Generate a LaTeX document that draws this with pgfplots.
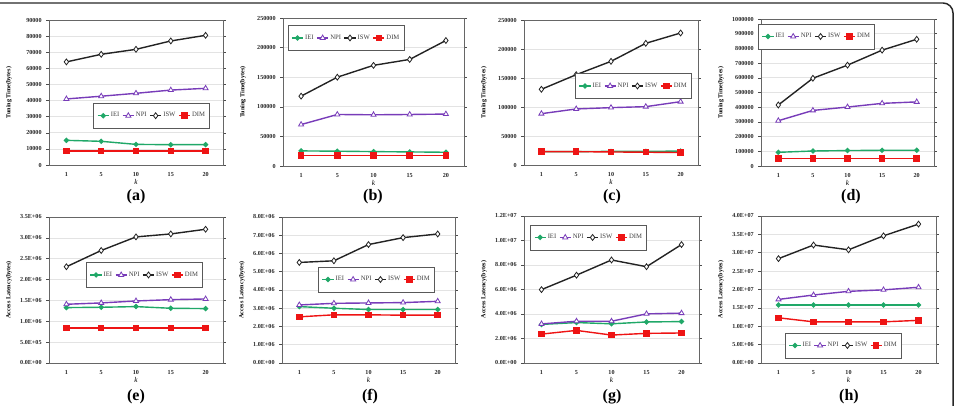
\documentclass[border=0pt]{standalone}
\usepackage{pgfplots}
\pgfplotsset{compat=1.18}
\usepackage{fontspec}
\setmainfont{Liberation Serif}

\definecolor{ieigreen}{RGB}{32,168,104}
\definecolor{npipurple}{RGB}{120,60,185}
\definecolor{iswdark}{RGB}{35,35,35}
\definecolor{dimred}{RGB}{238,20,20}

\pgfplotsset{
  panel/.style={
    scale only axis,
    anchor=south west,
    xmin=-0.5, xmax=4.5,
    xtick={0,1,2,3,4}, xticklabels={1,5,10,15,20},
    ymin=0, scaled y ticks=false,
    axis line style={draw=gray!80!black, line width=0.6pt},
    ymajorgrids, grid style={gray!22, line width=0.5pt},
    tick label style={font=\fontsize{4.6}{5}\selectfont\bfseries, text=black!85},
    /pgf/number format/assume math mode=true,
    xtick style={draw=none},
    ytick style={draw=black!70, line width=0.4pt},
    tick align=outside, major tick length=2pt,
    xlabel={\textit{k}},
    xlabel style={font=\fontsize{5.5}{6}\selectfont, at={(axis description cs:0.5,0)}, anchor=center, yshift=-12.5pt},
    ylabel style={font=\fontsize{4.6}{5}\selectfont\bfseries, at={(axis description cs:0,0.5)}, anchor=center, yshift=30pt},
    legend columns=4,
    legend style={draw=gray!70!black, line width=0.6pt, fill=white,
      font=\fontsize{5}{6}\selectfont, text=black!75, anchor=center,
      inner xsep=2.5pt, inner ysep=5pt,
      nodes={inner xsep=1pt},
      /tikz/every even column/.append style={column sep=1pt}},
    legend image code/.code={\draw[mark repeat=2,mark phase=2,##1] plot coordinates {(0pt,0pt) (4.2pt,0pt) (8.4pt,0pt)};},
  },
  iei/.style={color=ieigreen, line width=1.05pt, mark=*, mark size=1.4pt, mark options={solid}},
  npi/.style={color=npipurple, line width=1.05pt, mark=triangle*, mark size=2.2pt, mark options={solid, fill=white, line width=0.6pt}},
  isw/.style={color=iswdark, line width=1.05pt, mark=diamond*, mark size=2.2pt, mark options={solid, fill=white, line width=0.6pt}},
  dim/.style={color=dimred, line width=1.05pt, mark=square*, mark size=1.9pt, mark options={solid}},
}

\begin{document}
\begin{tikzpicture}
\useasboundingbox (0,0) rectangle (716.25pt,304.5pt);
\draw[line width=1.1pt, black!85] (0,302.25pt) -- (707.25pt,302.25pt)
  arc[start angle=90, end angle=0, radius=7.5pt] -- (714.75pt,0);

% ---------- (a) tuning time ----------
\begin{axis}[panel, at={(36.75pt,180.75pt)}, width=130.5pt, height=108.75pt,
  ymax=90000, ytick={0,10000,20000,30000,40000,50000,60000,70000,80000,90000},
  yticklabels={0,10000,20000,30000,40000,50000,60000,70000,80000,90000},
  ylabel={Tuning Time(bytes)}, legend style={at={(0.59,0.34)}}]
\addplot[iei] coordinates {(0,15300) (1,14700) (2,12800) (3,12600) (4,12600)};
\addplot[npi] coordinates {(0,41000) (1,42700) (2,44500) (3,46500) (4,47600)};
\addplot[isw] coordinates {(0,64000) (1,68700) (2,71800) (3,77000) (4,80500)};
\addplot[dim] coordinates {(0,8700) (1,8700) (2,8700) (3,8700) (4,8700)};
\legend{IEI,NPI,ISW,DIM}
\end{axis}
\node[font=\fontsize{12}{13}\selectfont\bfseries] at (102pt,156.75pt) {(a)};

% ---------- (b) ----------
\begin{axis}[panel, at={(212.25pt,180pt)}, width=135.75pt, height=111pt,
  ymax=250000, ytick={0,50000,100000,150000,200000,250000},
  yticklabels={0,50000,100000,150000,200000,250000},
  ylabel={Tuning Time(bytes)}, legend style={at={(0.348,0.865)}}]
\addplot[iei] coordinates {(0,25500) (1,25000) (2,24300) (3,23800) (4,23200)};
\addplot[npi] coordinates {(0,70000) (1,87000) (2,86500) (3,87000) (4,87700)};
\addplot[isw] coordinates {(0,118000) (1,150000) (2,170000) (3,180000) (4,212000)};
\addplot[dim] coordinates {(0,17500) (1,17500) (2,17500) (3,17500) (4,17500)};
\legend{IEI,NPI,ISW,DIM}
\end{axis}
\node[font=\fontsize{12}{13}\selectfont\bfseries] at (279.75pt,156.75pt) {(b)};

% ---------- (c) ----------
\begin{axis}[panel, at={(393pt,180.75pt)}, width=130.5pt, height=108.75pt,
  ymax=250000, ytick={0,50000,100000,150000,200000,250000},
  yticklabels={0,50000,100000,150000,200000,250000},
  ylabel={Tuning Time(bytes)}, legend style={at={(0.629,0.545)}}]
\addplot[iei] coordinates {(0,23000) (1,23000) (2,23500) (3,23500) (4,24000)};
\addplot[npi] coordinates {(0,88500) (1,96600) (2,98900) (3,100600) (4,109200)};
\addplot[isw] coordinates {(0,130500) (1,155700) (2,178700) (3,209800) (4,227600)};
\addplot[dim] coordinates {(0,23000) (1,23000) (2,22500) (3,22000) (4,21500)};
\legend{IEI,NPI,ISW,DIM}
\end{axis}
\node[font=\fontsize{12}{13}\selectfont\bfseries] at (459pt,156.75pt) {(c)};

% ---------- (d) ----------
\begin{axis}[panel, at={(570.75pt,180pt)}, width=129.75pt, height=110.25pt,
  ymax=1000000, ytick={0,100000,200000,300000,400000,500000,600000,700000,800000,900000,1000000},
  yticklabels={0,100000,200000,300000,400000,500000,600000,700000,800000,900000,1000000},
  ylabel={Tuning Time(bytes)}, legend style={at={(0.321,0.881)}}]
\addplot[iei] coordinates {(0,93000) (1,102000) (2,105000) (3,107000) (4,107000)};
\addplot[npi] coordinates {(0,308000) (1,378000) (2,401000) (3,426000) (4,436000)};
\addplot[isw] coordinates {(0,415000) (1,597000) (2,686000) (3,788000) (4,862000)};
\addplot[dim] coordinates {(0,52000) (1,52000) (2,52000) (3,52000) (4,52000)};
\legend{IEI,NPI,ISW,DIM}
\end{axis}
\node[font=\fontsize{12}{13}\selectfont\bfseries] at (638.25pt,156.75pt) {(d)};

% ---------- (e) access latency ----------
\begin{axis}[panel, at={(36.75pt,32.25pt)}, width=130.5pt, height=109.5pt,
  ymax=3500000, ytick={0,500000,1000000,1500000,2000000,2500000,3000000,3500000},
  yticklabels={0.0E+00,5.0E+05,1.0E+06,1.5E+06,2.0E+06,2.5E+06,3.0E+06,3.5E+06},
  ylabel={Access Latency(bytes)}, legend style={at={(0.549,0.603)}}]
\addplot[iei] coordinates {(0,1328000) (1,1336000) (2,1352000) (3,1312000) (4,1304000)};
\addplot[npi] coordinates {(0,1408000) (1,1440000) (2,1487000) (3,1519000) (4,1535000)};
\addplot[isw] coordinates {(0,2307000) (1,2697000) (2,3023000) (3,3094000) (4,3206000)};
\addplot[dim] coordinates {(0,835000) (1,835000) (2,835000) (3,835000) (4,835000)};
\legend{IEI,NPI,ISW,DIM}
\end{axis}
\node[font=\fontsize{12}{13}\selectfont\bfseries] at (102pt,6.75pt) {(e)};

% ---------- (f) ----------
\begin{axis}[panel, at={(211.5pt,32.25pt)}, width=129.75pt, height=109.5pt,
  ymax=8000000, ytick={0,1000000,2000000,3000000,4000000,5000000,6000000,7000000,8000000},
  yticklabels={0.0E+00,1.0E+06,2.0E+06,3.0E+06,4.0E+06,5.0E+06,6.0E+06,7.0E+06,8.0E+06},
  ylabel={Access Latency(bytes)}, legend style={at={(0.546,0.572)}}]
\addplot[iei] coordinates {(0,3090000) (1,3000000) (2,2930000) (3,2930000) (4,2930000)};
\addplot[npi] coordinates {(0,3180000) (1,3270000) (2,3290000) (3,3310000) (4,3380000)};
\addplot[isw] coordinates {(0,5510000) (1,5600000) (2,6490000) (3,6870000) (4,7070000)};
\addplot[dim] coordinates {(0,2530000) (1,2640000) (2,2640000) (3,2620000) (4,2620000)};
\legend{IEI,NPI,ISW,DIM}
\end{axis}
\node[font=\fontsize{12}{13}\selectfont\bfseries] at (277.5pt,6.75pt) {(f)};

% ---------- (g) ----------
\begin{axis}[panel, at={(393pt,32.25pt)}, width=131.25pt, height=110.25pt,
  ymax=12000000, ytick={0,2000000,4000000,6000000,8000000,10000000,12000000},
  yticklabels={0.0E+00,2.0E+06,4.0E+06,6.0E+06,8.0E+06,1.0E+07,1.2E+07},
  ylabel={Access Latency(bytes)}, legend style={at={(0.369,0.854)}}]
\addplot[iei] coordinates {(0,3150000) (1,3300000) (2,3200000) (3,3350000) (4,3380000)};
\addplot[npi] coordinates {(0,3190000) (1,3410000) (2,3410000) (3,4010000) (4,4070000)};
\addplot[isw] coordinates {(0,5990000) (1,7170000) (2,8410000) (3,7860000) (4,9670000)};
\addplot[dim] coordinates {(0,2360000) (1,2660000) (2,2280000) (3,2420000) (4,2450000)};
\legend{IEI,NPI,ISW,DIM}
\end{axis}
\node[font=\fontsize{12}{13}\selectfont\bfseries] at (459pt,6.75pt) {(g)};

% ---------- (h) ----------
\begin{axis}[panel, at={(570.75pt,32.25pt)}, width=131.25pt, height=110.25pt,
  ymax=40000000, ytick={0,5000000,10000000,15000000,20000000,25000000,30000000,35000000,40000000},
  yticklabels={0.0E+00,5.0E+06,1.0E+07,1.5E+07,2.0E+07,2.5E+07,3.0E+07,3.5E+07,4.0E+07},
  ylabel={Access Latency(bytes)}, legend style={at={(0.471,0.119)}}]
\addplot[iei] coordinates {(0,15800000) (1,15800000) (2,15800000) (3,15800000) (4,15800000)};
\addplot[npi] coordinates {(0,17300000) (1,18500000) (2,19500000) (3,19900000) (4,20600000)};
\addplot[isw] coordinates {(0,28400000) (1,32100000) (2,30800000) (3,34600000) (4,37800000)};
\addplot[dim] coordinates {(0,12300000) (1,11200000) (2,11200000) (3,11200000) (4,11600000)};
\legend{IEI,NPI,ISW,DIM}
\end{axis}
\node[font=\fontsize{12}{13}\selectfont\bfseries] at (636.75pt,6.75pt) {(h)};
\end{tikzpicture}
\end{document}
